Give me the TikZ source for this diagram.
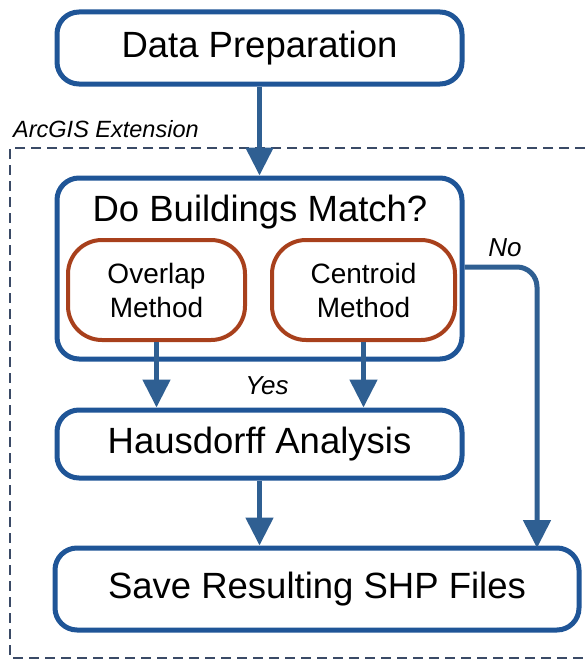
\documentclass[tikz,border=0pt]{standalone}
\usepackage{fontspec}
\setmainfont{Liberation Sans}
\usetikzlibrary{arrows.meta}
\definecolor{boxblue}{HTML}{1F5597}
\definecolor{arrowblue}{HTML}{2F5F92}
\definecolor{rust}{HTML}{A8401C}
\definecolor{dashgray}{HTML}{3A4A66}
\begin{document}
\begin{tikzpicture}[x=1pt,y=-1pt,
  mainbox/.style={draw=boxblue,line width=5pt,rounded corners=22pt,fill=white,
    minimum width=405pt,inner sep=0pt,font=\fontsize{36.5}{40}\selectfont},
  methodbox/.style={draw=rust,line width=4pt,rounded corners=34pt,fill=white,
    minimum height=100pt,inner sep=0pt,align=center,font=\fontsize{28}{34}\selectfont},
  flow/.style={draw=arrowblue,line width=5pt,-{Triangle[length=28pt,width=27pt]}},
  lbl/.style={font=\itshape\fontsize{26}{30}\selectfont,inner sep=0pt}
]
\useasboundingbox (0,0) rectangle (585,661);
% dashed extension frame
\draw[dashgray,line width=2pt,dash pattern=on 10pt off 6pt] (585,148) -- (10,148) -- (10,658) -- (585,658);
\node[font=\itshape\fontsize{23.5}{27}\selectfont,anchor=west,inner sep=0pt] (ext) at (13,129) {ArcGIS Extension};

\node[mainbox,minimum height=72pt] (dp) at (259.5,48) {Data Preparation};
\node[mainbox,minimum height=181pt] (dbm) at (259.5,268.5) {};
\node[inner sep=0pt,font=\fontsize{36.5}{40}\selectfont] (dbmt) at (260,212) {Do Buildings Match?};
\node[methodbox,minimum width=177pt] (ov) at (156.5,290) {Overlap\\Method};
\node[methodbox,minimum width=183pt] (ce) at (363.5,290) {Centroid\\Method};
\node[mainbox,minimum height=68pt] (ha) at (259.5,444) {Hausdorff Analysis};
\node[mainbox,minimum width=524pt,minimum height=82pt] (sv) at (317,589) {Save Resulting SHP Files};
\coordinate (noin) at (537,548);

\draw[flow] (dp.south) -- (dbm.north);
\draw[flow] (ov.south) -- (ov.south |- ha.north);
\draw[flow] (ce.south) -- (ce.south |- ha.north);
\draw[flow] (ha.south) -- (ha.south |- sv.north);
\draw[flow,rounded corners=20pt] ([yshift=1.5pt]dbm.east) -| (noin);

\node[lbl] (yes) at (267,386) {Yes};
\node[lbl] (no) at (505,248) {No};
\end{tikzpicture}
\end{document}
